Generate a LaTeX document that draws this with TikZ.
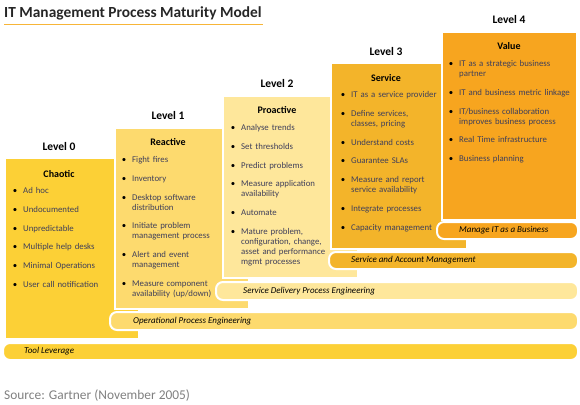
\documentclass[tikz,border=0pt]{standalone}
\usepackage{fontspec}
\setmainfont{Carlito}
\usetikzlibrary{positioning}
\definecolor{gold}{HTML}{FCD036}
\definecolor{sand}{HTML}{FDDA6E}
\definecolor{cream}{HTML}{FEE79B}
\definecolor{amber}{HTML}{F3B42A}
\definecolor{tangerine}{HTML}{F7A51F}
\definecolor{ink}{HTML}{3F3F5A}
\definecolor{rulecol}{HTML}{F7B538}
\definecolor{srcgray}{HTML}{808080}
\newcommand{\fitm}{\noindent\llap{\textcolor{black}{\textbullet}\hspace{6pt}}}
\newcommand{\itm}{\par\vspace{8.8pt}\fitm}

\begin{document}
\begin{tikzpicture}
[x=1pt,y=-1pt,
levelbox/.style={draw=white,line width=1.5pt},
bar/.style={draw=white,line width=2pt,rounded corners=7pt},
lvl/.style={inner sep=0pt,font=\fontsize{11.5}{13}\selectfont\bfseries},
ttl/.style={inner sep=0pt,font=\fontsize{10}{12}\selectfont\bfseries},
items/.style={anchor=north west,inner sep=0pt,text width=130pt,text=ink,
font=\fontsize{8.8}{10}\selectfont,
execute at begin node={\raggedright\leftskip=9pt}},
barlabel/.style={anchor=west,inner sep=0pt,font=\fontsize{9}{11}\selectfont\itshape}]
\useasboundingbox (0,0) rectangle (580,404);
% title
\node[anchor=base west,inner sep=0pt,text={black!85},
font=\fontsize{15.4}{17}\selectfont\bfseries] (title) at (4,18)
{IT Management Process Maturity Model};
\draw[rulecol,line width=1.2pt] (4,24.5) -- (263,24.5);
% steps and bars
\fill[gold] (6,159) rectangle (138,338);
\path[levelbox,fill=sand] (115,128) rectangle (249,309);
\path[bar,fill=sand] (110,312) rectangle (578,330);
\path[levelbox,fill=cream] (223,96) rectangle (358,278);
\path[bar,fill=cream] (216,282) rectangle (578,300);
\path[levelbox,fill=amber] (331,63) rectangle (467,249);
\path[bar,fill=amber] (329,252) rectangle (578,269);
\path[levelbox,fill=tangerine] (442,32) rectangle (577,220);
\path[bar,fill=tangerine] (437,222) rectangle (578,239);
\path[bar,fill=gold] (3,343) rectangle (578,360);
% level 0
\node[lvl] (lvl0) at (59,147) {Level 0};
\node[ttl] (chaotic) at (59,174) {Chaotic};
\node[items] (list0) at (14,187.2)
{\fitm Ad hoc
\itm Undocumented
\itm Unpredictable
\itm Multiple help desks
\itm Minimal Operations
\itm User call notification};
% level 1
\node[lvl] (lvl1) at (168,116) {Level 1};
\node[ttl] (reactive) at (168,142) {Reactive};
\node[items] (list1) at (123,156.2)
{\fitm Fight fires
\itm Inventory
\itm Desktop software\\distribution
\itm Initiate problem\\management process
\itm Alert and event\\management
\itm Measure component\\availability (up/down)};
% level 2
\node[lvl] (lvl2) at (277,84) {Level 2};
\node[ttl] (proactive) at (277,110) {Proactive};
\node[items] (list2) at (232,124.2)
{\fitm Analyse trends
\itm Set thresholds
\itm Predict problems
\itm Measure application\\availability
\itm Automate
\itm Mature problem,\\configuration, change,\\asset and performance\\mgmt processes};
% level 3
\node[lvl] (lvl3) at (386,52) {Level 3};
\node[ttl] (service) at (386,78) {Service};
\node[items] (list3) at (342,91.2)
{\fitm IT as a service provider
\itm Define services,\\classes, pricing
\itm Understand costs
\itm Guarantee SLAs
\itm Measure and report\\service availability
\itm Integrate processes
\itm Capacity management};
% level 4
\node[lvl] (lvl4) at (509,20) {Level 4};
\node[ttl] (value) at (509,46) {Value};
\node[items] (list4) at (450,60.2)
{\fitm IT as a strategic business\\partner
\itm IT and business metric linkage
\itm IT/business collaboration\\improves business process
\itm Real Time infrastructure
\itm Business planning};
% bar texts
\node[barlabel] (manage) at (459,230.5) {Manage IT as a Business};
\node[barlabel] (account) at (351,260.5) {Service and Account Management};
\node[barlabel] (delivery) at (243,291) {Service Delivery Process Engineering};
\node[barlabel] (operational) at (133,321) {Operational Process Engineering};
\node[barlabel] (tools) at (24,351.5) {Tool Leverage};
% source
\node[anchor=base west,inner sep=0pt,text=srcgray,
font=\fontsize{13.4}{15}\selectfont] (source) at (4,399.5)
{Source: Gartner (November 2005)};
\end{tikzpicture}
\end{document}
